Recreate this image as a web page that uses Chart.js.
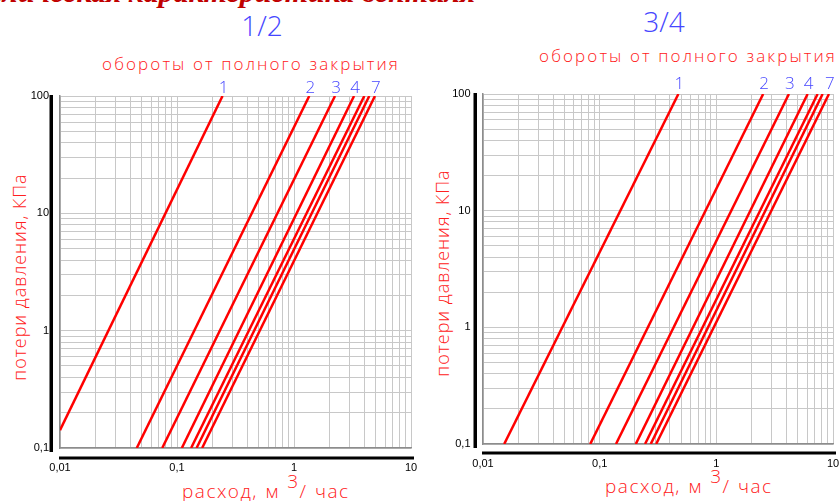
<!DOCTYPE html>
<html lang="ru">
<head>
<meta charset="UTF-8">
<title>Гидравлическая характеристика</title>
<script src="https://cdn.jsdelivr.net/npm/chart.js"></script>
<style>
  body { margin: 0; background: #fff; width: 840px; height: 501px; overflow: hidden; position: relative; }
  canvas { position: absolute; top: 0; }
  .t { position: absolute; white-space: nowrap; font-family: 'Open Sans', sans-serif; font-weight: 300; line-height: 1; }
  .red { color: #ff2020; }
  .blue { color: #4646ff; }
</style>
</head>
<body>
<div class="t" style="left:-90px; top:-25px; font: italic bold 30px 'Liberation Serif'; color:#c00000;">Гидравлическая характеристика вентиля</div>

<div class="t blue" style="left:262px; top:25px; font-size:28px; transform:translate(-50%,-50%);">1/2</div>
<div class="t blue" style="left:664px; top:21px; font-size:28px; transform:translate(-50%,-50%);">3/4</div>

<div class="t red" style="left:251px; top:55px; font-size:17px; letter-spacing:2.1px; transform:translateX(-50%);">обороты от полного закрытия</div>
<div class="t red" style="left:688px; top:47px; font-size:17px; letter-spacing:2.1px; transform:translateX(-50%);">обороты от полного закрытия</div>

<div class="t red" style="left:19px; top:277px; font-size:18px; letter-spacing:1px; transform:translate(-50%,-50%) rotate(-90deg);">потери давления, КПа</div>
<div class="t red" style="left:442px; top:273px; font-size:18px; letter-spacing:1px; transform:translate(-50%,-50%) rotate(-90deg);">потери давления, КПа</div>

<div class="t red" style="left:182px; top:482px; font-size:19px; letter-spacing:1.5px; word-spacing:1px;">расход, м <span style="position:relative; top:-10px;">3</span>/ час</div>
<div class="t red" style="left:605px; top:477px; font-size:19px; letter-spacing:1.5px; word-spacing:1px;">расход, м <span style="position:relative; top:-10px;">3</span>/ час</div>

<canvas id="half" width="420" height="501" style="left:0"></canvas>
<canvas id="three" width="420" height="501" style="left:420px"></canvas>

<script>
// curve names (turns from fully closed)
const curveNames = ['1', '2', '3', '4', '5', '6', '7'];
const curveLabels = ['1', '2', '3', '4', '', '', '7'];

// 1/2": flow at the lower and upper end of each curve, m3/h; pressure loss, kPa
const halfQ0 = [0.01, 0.0453, 0.0748, 0.110, 0.132, 0.147, 0.164];
const halfP0 = [0.142, 0.1, 0.1, 0.1, 0.1, 0.1, 0.1];
const halfQ1 = [0.245, 1.35, 2.24, 3.26, 3.99, 4.40, 4.92];
const halfP1 = [100, 100, 100, 100, 100, 100, 100];

// 3/4"
const threeQ0 = [0.0152, 0.083, 0.138, 0.204, 0.245, 0.274, 0.305];
const threeP0 = [0.1, 0.1, 0.1, 0.1, 0.1, 0.1, 0.1];
const threeQ1 = [0.473, 2.52, 4.19, 6.06, 7.38, 8.15, 9.23];
const threeP1 = [100, 100, 100, 100, 100, 100, 100];

// axes
const xMin = 0.01, xMax = 10;
const yMin = 0.1, yMax = 100;
const xTickValues = [0.01, 0.1, 1, 10];
const xTickLabels = ['0,01', '0,1', '1', '10'];
const yTickValues = [0.1, 1, 10, 100];
const yTickLabels = ['0,1', '1', '10', '100'];

function logGrid(min, max) {
    const v = [];
    for (let e = Math.round(Math.log10(min)); e < Math.round(Math.log10(max)); e++) {
        for (let m = 1; m < 10; m++) v.push(Number((m * Math.pow(10, e)).toPrecision(6)));
    }
    v.push(max);
    return v;
}

function labelFor(values, labels) {
    return function (value) {
        const i = values.findIndex(t => Math.abs(t - value) < t * 1e-6);
        return i >= 0 ? labels[i] : '';
    };
}

const thickAxes = {
    id: 'thickAxes',
    afterDraw(chart) {
        const a = chart.chartArea, ctx = chart.ctx;
        const o = chart.options.plugins.thickAxes;
        ctx.save();
        ctx.fillStyle = '#000';
        ctx.fillRect(a.left - o.leftGap, a.top - 1, 3.5, a.bottom - a.top + 5);
        ctx.fillRect(a.left - 1, a.bottom + o.bottomGap, a.right - a.left + 4, 3);
        ctx.restore();
    }
};

const curveTags = {
    id: 'curveTags',
    afterDraw(chart) {
        const a = chart.chartArea, ctx = chart.ctx;
        const o = chart.options.plugins.curveTags;
        ctx.save();
        ctx.fillStyle = '#4646ff';
        ctx.font = "300 17px 'Open Sans'";
        ctx.textAlign = 'center';
        ctx.textBaseline = 'alphabetic';
        o.q.forEach((q, i) => {
            if (!curveLabels[i]) return;
            const x = chart.scales.x.getPixelForValue(q);
            ctx.fillText(curveLabels[i], x + 1, a.top - o.lift);
        });
        ctx.restore();
    }
};

function makeChart(id, q0, p0, q1, p1, box) {
    const datasets = curveNames.map((name, i) => ({
        label: name,
        data: [{ x: q0[i], y: p0[i] }, { x: q1[i], y: p1[i] }],
        borderColor: '#ff0000',
        borderWidth: 2.5,
        pointRadius: 0,
        fill: false,
        tension: 0
    }));
    const grid = { color: '#c8c8c8', lineWidth: 1, drawTicks: false };
    return new Chart(document.getElementById(id), {
        type: 'line',
        data: { datasets },
        plugins: [thickAxes, curveTags],
        options: {
            responsive: false,
            animation: false,
            devicePixelRatio: 1,
            layout: { padding: { left: 0, top: box.top, right: box.right, bottom: 0 } },
            plugins: {
                legend: { display: false },
                tooltip: { enabled: false },
                thickAxes: { leftGap: box.leftGap, bottomGap: box.bottomGap },
                curveTags: { q: q1, lift: box.lift }
            },
            scales: {
                x: {
                    type: 'logarithmic',
                    min: xMin, max: xMax,
                    grid,
                    border: { color: '#8c8c8c', width: 1.5 },
                    afterBuildTicks: s => { s.ticks = logGrid(xMin, xMax).map(v => ({ value: v })); },
                    afterFit: s => { s.height = box.xh; s.paddingLeft = 0; s.paddingRight = 0; },
                    ticks: {
                        autoSkip: false, maxRotation: 0, padding: 13,
                        color: '#000', font: { family: 'Liberation Sans', size: 11 },
                        callback: labelFor(xTickValues, xTickLabels)
                    }
                },
                y: {
                    type: 'logarithmic',
                    min: yMin, max: yMax,
                    grid,
                    border: { color: '#8c8c8c', width: 1.5 },
                    afterBuildTicks: s => { s.ticks = logGrid(yMin, yMax).map(v => ({ value: v })); },
                    afterFit: s => { s.width = box.yw; s.paddingTop = 0; s.paddingBottom = 0; },
                    ticks: {
                        autoSkip: false, padding: box.ypad,
                        color: '#000', font: { family: 'Liberation Sans', size: 11 },
                        callback: labelFor(yTickValues, yTickLabels)
                    }
                }
            }
        }
    });
}

makeChart('half', halfQ0, halfP0, halfQ1, halfP1,
    { top: 96, right: 9, xh: 53, yw: 60, ypad: 11, leftGap: 10.5, bottomGap: 8.5, lift: 3 });
makeChart('three', threeQ0, threeP0, threeQ1, threeP1,
    { top: 94, right: 7, xh: 57, yw: 63, ypad: 12.5, leftGap: 9.5, bottomGap: 7.5, lift: 5 });
</script>
</body>
</html>
